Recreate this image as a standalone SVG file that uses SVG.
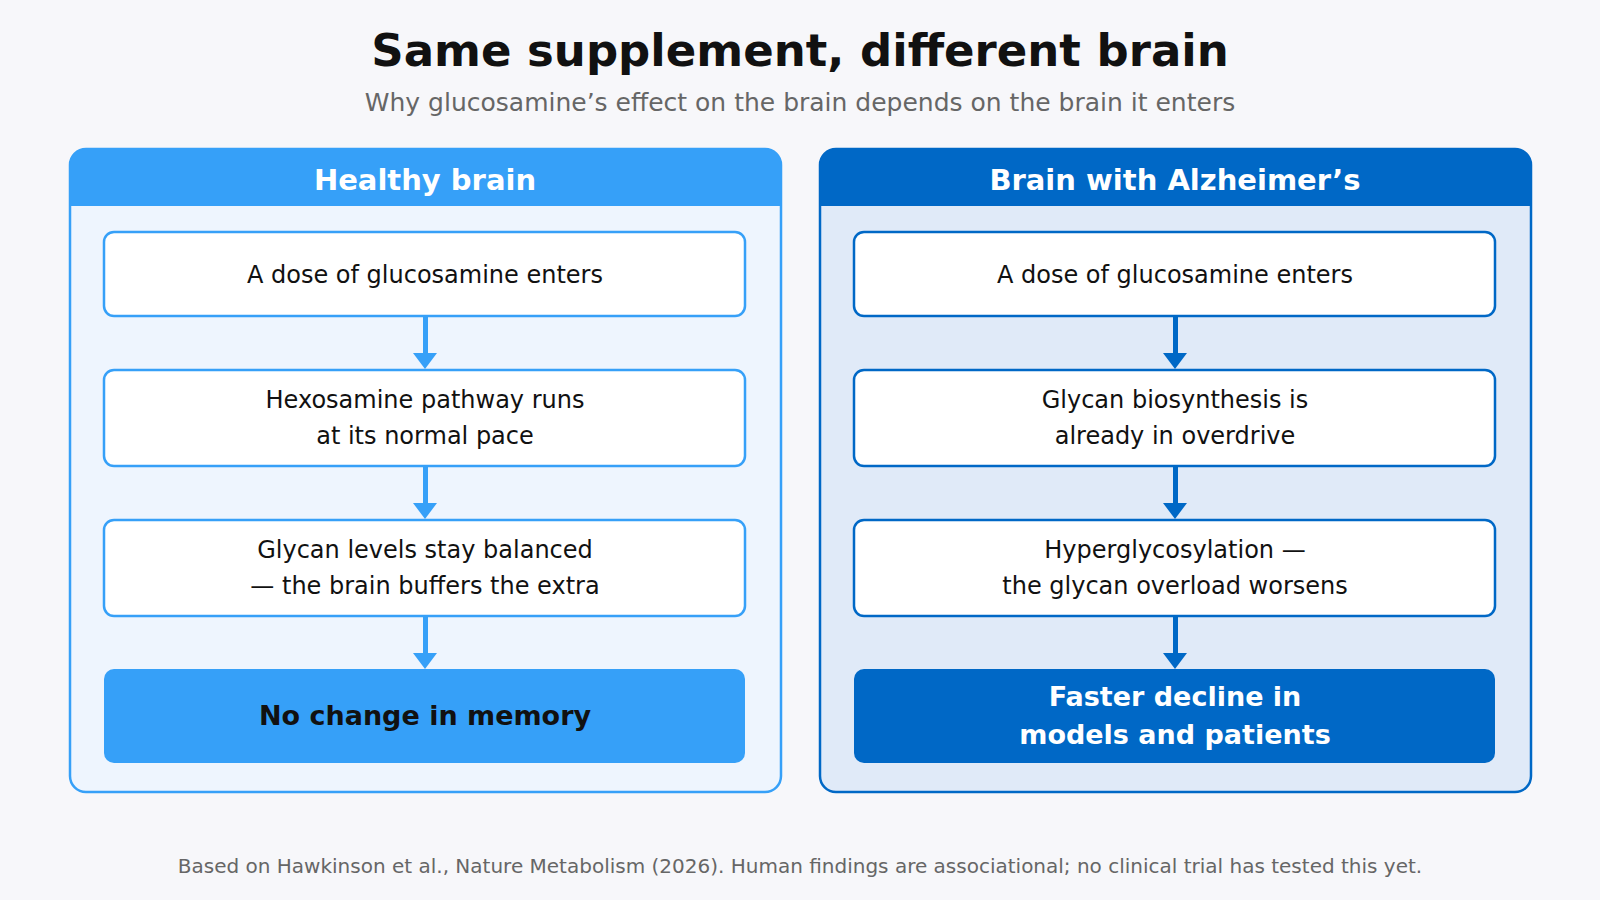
<svg xmlns="http://www.w3.org/2000/svg" width="1600" height="900" viewBox="0 0 1600 900">
<style>
text{font-family:"DejaVu Sans",sans-serif;text-anchor:middle}
.box{fill:#fff;stroke-width:2.5}
.t{font-size:24px;fill:#111}
.h{font-size:29px;font-weight:bold;fill:#fff}
.L{stroke:#36a0f8}.R{stroke:#0068c6}
</style>
<defs>
<marker id="aL" markerWidth="8" markerHeight="8" refX="4" refY="4" orient="auto" markerUnits="userSpaceOnUse" viewBox="0 0 8 8"><path d="M0,0L8,4L0,8z" fill="#36a0f8"/></marker>
</defs>
<rect width="1600" height="900" fill="#f7f7fa"/>
<text x="800" y="66" font-size="45" font-weight="bold" fill="#111">Same supplement, different brain</text>
<text x="800" y="111" font-size="25" fill="#666">Why glucosamine’s effect on the brain depends on the brain it enters</text>
<g id="left-panel">
<rect x="70" y="149" width="711" height="643" rx="16" fill="#eef5fe" stroke="#36a0f8" stroke-width="2.5"/>
<path d="M70,206V165a16,16 0 0 1 16-16H765a16,16 0 0 1 16,16V206z" fill="#36a0f8"/>
<text class="h" x="425" y="190">Healthy brain</text>
</g>
<g id="right-panel">
<rect x="820" y="149" width="711" height="643" rx="16" fill="#e0eaf8" stroke="#0068c6" stroke-width="2.5"/>
<path d="M820,206V165a16,16 0 0 1 16-16H1515a16,16 0 0 1 16,16V206z" fill="#0068c6"/>
<text class="h" x="1175" y="190">Brain with Alzheimer’s</text>
</g>
<g id="connectors">
<g fill="#36a0f8" stroke="none">
<rect x="423" y="316" width="5" height="38"/><path d="M413,353h24l-12,16z"/>
<rect x="423" y="466" width="5" height="38"/><path d="M413,503h24l-12,16z"/>
<rect x="423" y="616" width="5" height="38"/><path d="M413,653h24l-12,16z"/>
</g>
<g fill="#0068c6" stroke="none">
<rect x="1173" y="316" width="5" height="38"/><path d="M1163,353h24l-12,16z"/>
<rect x="1173" y="466" width="5" height="38"/><path d="M1163,503h24l-12,16z"/>
<rect x="1173" y="616" width="5" height="38"/><path d="M1163,653h24l-12,16z"/>
</g>
</g>
<g id="l1"><rect class="box L" x="104" y="232" width="641" height="84" rx="10"/><text class="t" x="425" y="283">A dose of glucosamine enters</text></g>
<g id="l2"><rect class="box L" x="104" y="370" width="641" height="96" rx="10"/><text class="t" x="425" y="408">Hexosamine pathway runs</text><text class="t" x="425" y="444">at its normal pace</text></g>
<g id="l3"><rect class="box L" x="104" y="520" width="641" height="96" rx="10"/><text class="t" x="425" y="558">Glycan levels stay balanced</text><text class="t" x="425" y="594">— the brain buffers the extra</text></g>
<g id="l4"><rect x="104" y="669" width="641" height="94" rx="10" fill="#36a0f8"/><text x="425" y="725" font-size="27" font-weight="bold" fill="#111">No change in memory</text></g>
<g id="r1"><rect class="box R" x="854" y="232" width="641" height="84" rx="10"/><text class="t" x="1175" y="283">A dose of glucosamine enters</text></g>
<g id="r2"><rect class="box R" x="854" y="370" width="641" height="96" rx="10"/><text class="t" x="1175" y="408">Glycan biosynthesis is</text><text class="t" x="1175" y="444">already in overdrive</text></g>
<g id="r3"><rect class="box R" x="854" y="520" width="641" height="96" rx="10"/><text class="t" x="1175" y="558">Hyperglycosylation —</text><text class="t" x="1175" y="594">the glycan overload worsens</text></g>
<g id="r4"><rect x="854" y="669" width="641" height="94" rx="10" fill="#0068c6"/><text x="1175" y="706" font-size="27" font-weight="bold" fill="#fff">Faster decline in</text><text x="1175" y="744" font-size="27" font-weight="bold" fill="#fff">models and patients</text></g>
<text x="800" y="873" font-size="20" fill="#666">Based on Hawkinson et al., Nature Metabolism (2026). Human findings are associational; no clinical trial has tested this yet.</text>
</svg>
